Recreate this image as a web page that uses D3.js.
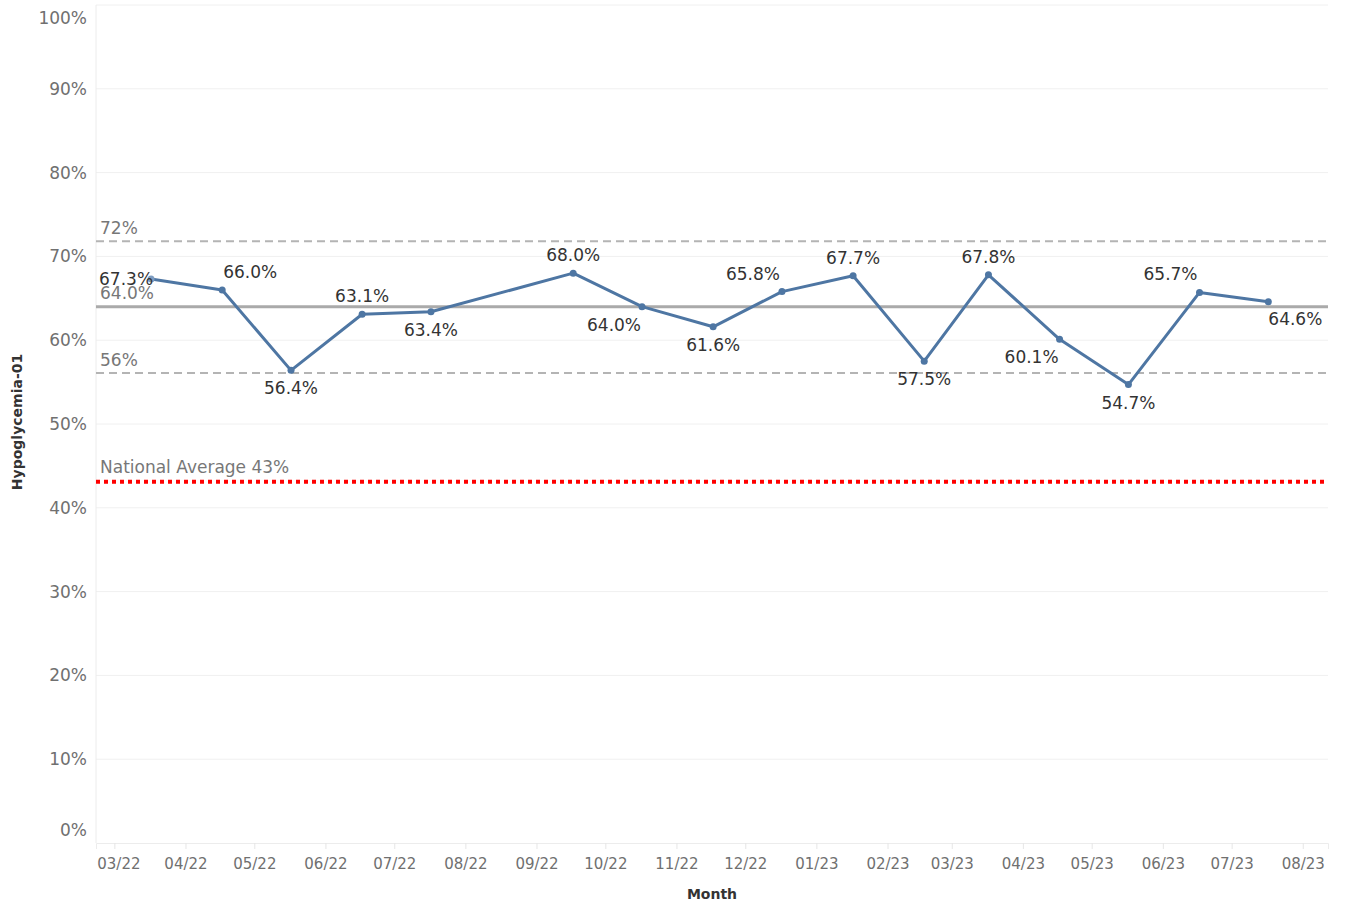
<!DOCTYPE html>
<html><head><meta charset="utf-8">
<script src="https://cdn.jsdelivr.net/npm/d3@7"></script>
<style>
html,body{margin:0;padding:0;background:#fff;}
svg{display:block;font-family:"DejaVu Sans",sans-serif;}
</style></head>
<body><svg id="chart" width="1347" height="907"></svg>
<script>
// ---- data ----
const months = ["2022-03","2022-04","2022-05","2022-06","2022-07","2022-09","2022-10","2022-11","2022-12","2023-01","2023-02","2023-03","2023-04","2023-05","2023-06","2023-07"];
const values = [67.3,66.0,56.4,63.1,63.4,68.0,64.0,61.6,65.8,67.7,57.5,67.8,60.1,54.7,65.7,64.6];
const labelPlacement = ["left","aboveRight","below","above","below","above","belowLeft","below","aboveLeft","above","below","above","belowLeft","below","aboveLeft","belowRight"];
const tickMonths = ["2022-03","2022-04","2022-05","2022-06","2022-07","2022-08","2022-09","2022-10","2022-11","2022-12","2023-01","2023-02","2023-03","2023-04","2023-05","2023-06","2023-07","2023-08"];
const yTicks = [0,10,20,30,40,50,60,70,80,90,100];
const upperLimit = 71.8, upperLabel = "72%";
const meanLine = 64.0, meanLabel = "64.0%";
const lowerLimit = 56.1, lowerLabel = "56%";
const nationalAvg = 43.1, nationalLabel = "National Average 43%";
const xDomain = ["2022-02-21","2023-08-12"];

// ---- layout ----
const svg = d3.select("#chart");
const L = 96, R = 1328, T = 5, B = 843;
const parse = d3.timeParse("%Y-%m-%d");
const pm = d3.timeParse("%Y-%m");
const x = d3.scaleTime().domain(xDomain.map(parse)).range([L, R]);
const y = d3.scaleLinear().domain([0, 100]).range([B, T]);
const mid = s => { const d = pm(s); return new Date(d.getFullYear(), d.getMonth(), 17); };

// gridlines
svg.append("g").selectAll("line").data(yTicks.filter(v => v > 0)).join("line")
  .attr("x1", L).attr("x2", R).attr("y1", d => y(d)).attr("y2", d => y(d))
  .attr("stroke", "#f0f0f0").attr("stroke-width", 1);

// y axis line
svg.append("line").attr("x1", L).attr("x2", L).attr("y1", T).attr("y2", B).attr("stroke", "#ececec");
// y tick labels
svg.append("g").selectAll("text").data(yTicks).join("text")
  .attr("x", 87)
  .attr("y", d => d === 100 ? y(d) + 13 : d === 0 ? y(d) - 13 : y(d))
  .attr("dy", "0.35em").attr("text-anchor", "end")
  .attr("fill", "#707070").attr("font-size", 17).text(d => d + "%");

// x axis
const xa = svg.append("g").attr("transform", `translate(0,${B})`)
  .call(d3.axisBottom(x).tickValues(tickMonths.map(pm)).tickFormat(d3.timeFormat("%m/%y")).tickSize(6).tickPadding(7));
xa.select(".domain").attr("stroke", "#ececec");
xa.selectAll(".tick line").attr("stroke", "#e6e6e6");
xa.selectAll(".tick text").attr("fill", "#707070").attr("font-size", 15).attr("font-family", "DejaVu Sans, sans-serif").attr("dy", "0.85em")
  .attr("dx", (d, i) => i === 0 ? 4 : 0);

// axis titles
svg.append("text").attr("x", 712).attr("y", 899).attr("text-anchor", "middle")
  .attr("font-weight", "bold").attr("font-size", 14).attr("fill", "#333").text("Month");
svg.append("text").attr("transform", "translate(22,422) rotate(-90)").attr("text-anchor", "middle")
  .attr("font-weight", "bold").attr("font-size", 14).attr("fill", "#333").text("Hypoglycemia-01");

// reference lines
const refG = svg.append("g");
refG.append("line").attr("x1", L).attr("x2", R).attr("y1", y(upperLimit)).attr("y2", y(upperLimit))
  .attr("stroke", "#b4b4b4").attr("stroke-width", 2).attr("stroke-dasharray", "8,5");
refG.append("line").attr("x1", L).attr("x2", R).attr("y1", y(lowerLimit)).attr("y2", y(lowerLimit))
  .attr("stroke", "#b4b4b4").attr("stroke-width", 2).attr("stroke-dasharray", "8,5");
refG.append("line").attr("x1", L).attr("x2", R).attr("y1", y(meanLine)).attr("y2", y(meanLine))
  .attr("stroke", "#aaaaaa").attr("stroke-width", 3);
refG.append("line").attr("x1", L).attr("x2", R).attr("y1", y(nationalAvg)).attr("y2", y(nationalAvg))
  .attr("stroke", "#ff0000").attr("stroke-width", 4).attr("stroke-dasharray", "4,4");

const refLbl = [[upperLimit, upperLabel, 13], [meanLine, meanLabel, 14], [lowerLimit, lowerLabel, 13], [nationalAvg, nationalLabel, 15]];
refG.selectAll("text").data(refLbl).join("text")
  .attr("x", 100).attr("y", d => y(d[0]) - d[2]).attr("dy", "0.35em")
  .attr("fill", "#777").attr("font-size", 17).text(d => d[1]);

// series
const pts = months.map((m, i) => ({ d: mid(m), v: values[i], p: labelPlacement[i] }));
svg.append("path").datum(pts)
  .attr("d", d3.line().x(d => x(d.d)).y(d => y(d.v)))
  .attr("fill", "none").attr("stroke", "#4e76a3").attr("stroke-width", 3).attr("stroke-linejoin", "round");
svg.append("g").selectAll("circle").data(pts).join("circle")
  .attr("cx", d => x(d.d)).attr("cy", d => y(d.v)).attr("r", 3.5)
  .attr("fill", (d, i) => i === 0 ? "#7d9cc0" : "#4e76a3");

const off = {
  left: [2, 0, "end"], above: [0, -18, "middle"], below: [0, 18, "middle"],
  aboveRight: [28, -18, "middle"], aboveLeft: [-29, -18, "middle"],
  belowLeft: [-28, 18, "middle"], belowRight: [27, 17, "middle"]
};
svg.append("g").selectAll("text").data(pts).join("text")
  .attr("x", d => x(d.d) + off[d.p][0]).attr("y", d => y(d.v) + off[d.p][1])
  .attr("dy", "0.35em").attr("text-anchor", d => off[d.p][2])
  .attr("fill", "#333").attr("font-size", 17).text(d => d.v.toFixed(1) + "%");
</script></body></html>
